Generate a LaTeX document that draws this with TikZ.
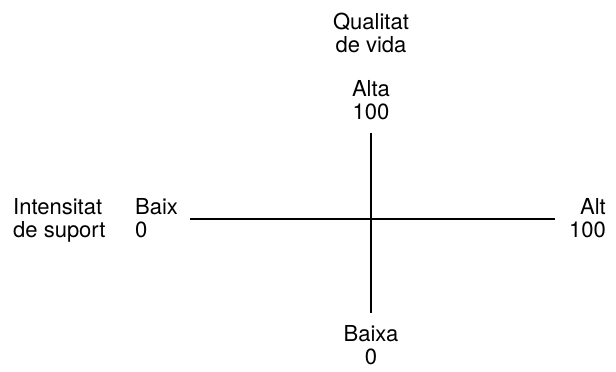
\documentclass[tikz,border=0pt]{standalone}
\usepackage{fontspec}
\setmainfont{TeX Gyre Heros}
\begin{document}
\begin{tikzpicture}[x=1pt,y=1pt,
  lbl/.style={inner sep=0pt, font=\fontsize{22}{23.5}\selectfont},
  axis/.style={line width=1.8pt}]
\useasboundingbox (0,0) rectangle (616,372);
\coordinate (xl) at (190,153);
\coordinate (xr) at (555,153);
\coordinate (yt) at (371,239);
\coordinate (yb) at (371,59);
\draw[axis] (xl) -- (xr);
\draw[axis] (yt) -- (yb);

% base anchor sits on the last line
\node[lbl, align=center, anchor=base] (qv) at (371,319) {Qualitat\\de vida};
\node[lbl, align=center, anchor=base] (alta) at (371,252) {Alta\\100};
\node[lbl, align=center, anchor=base] (baixa) at (371,7) {Baixa\\0};
\node[lbl, align=left, anchor=base west] (is) at (13,134) {Intensitat\\de suport};
\node[lbl, align=left, anchor=base west] (baix) at (135,134) {Baix\\0};
\node[lbl, align=right, anchor=base east] (alt) at (606,134) {Alt\\100};
\end{tikzpicture}
\end{document}
